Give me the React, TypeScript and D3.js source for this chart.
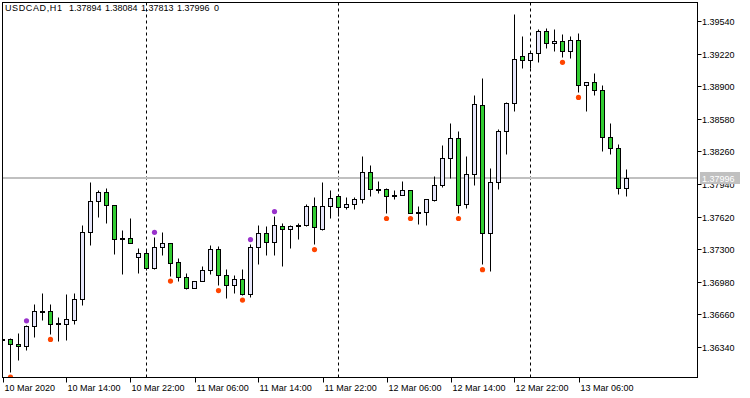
import React from 'react';
import * as d3 from 'd3';

const opens = [1.36407,1.36415,1.36363,1.36340,1.36537,1.36683,1.36685,1.36560,1.36562,1.36602,1.36803,1.37462,1.37768,1.37856,1.37728,1.37398,1.37400,1.37216,1.37256,1.37108,1.37315,1.37354,1.37167,1.37019,1.36911,1.36980,1.37088,1.37295,1.37039,1.36941,1.37000,1.36852,1.37315,1.37453,1.37364,1.37518,1.37492,1.37525,1.37531,1.37719,1.37492,1.37719,1.37817,1.37709,1.37738,1.37787,1.38053,1.37884,1.37886,1.37821,1.37827,1.37876,1.37657,1.37659,1.37780,1.37925,1.38191,1.38388,1.37738,1.38034,1.38713,1.37453,1.37955,1.38457,1.38733,1.39195,1.39156,1.39225,1.39442,1.39323,1.39343,1.39245,1.39353,1.38910,1.38939,1.38861,1.38398,1.38290,1.37894];
const highs = [1.36451,1.36420,1.36471,1.36545,1.36754,1.36862,1.36754,1.36629,1.36852,1.36862,1.37531,1.37955,1.37879,1.37896,1.37730,1.37482,1.37600,1.37305,1.37298,1.37416,1.37465,1.37358,1.37209,1.37059,1.36982,1.37128,1.37335,1.37328,1.37098,1.37039,1.37098,1.37344,1.37531,1.37522,1.37620,1.37551,1.37531,1.37551,1.37738,1.37807,1.37951,1.37872,1.37837,1.37807,1.37807,1.38211,1.38122,1.37965,1.37894,1.37876,1.37965,1.37878,1.37719,1.37787,1.38017,1.38319,1.38536,1.38457,1.38211,1.38811,1.38979,1.38093,1.38477,1.38742,1.39609,1.39392,1.39238,1.39461,1.39471,1.39461,1.39412,1.39392,1.39422,1.38939,1.39028,1.38910,1.38536,1.38329,1.38084];
const lows = [1.36373,1.36090,1.36208,1.36307,1.36435,1.36602,1.36461,1.36395,1.36405,1.36562,1.36750,1.37340,1.37606,1.37547,1.37242,1.37049,1.37352,1.37055,1.37091,1.37100,1.37232,1.37035,1.36986,1.36905,1.36909,1.36978,1.37049,1.36941,1.36813,1.36862,1.36848,1.36823,1.37147,1.37236,1.37236,1.37128,1.37305,1.37394,1.37518,1.37344,1.37485,1.37600,1.37620,1.37685,1.37689,1.37748,1.37817,1.37847,1.37650,1.37787,1.37827,1.37650,1.37541,1.37531,1.37768,1.37906,1.37994,1.37650,1.37699,1.37925,1.37147,1.37079,1.37886,1.38231,1.38654,1.39077,1.39077,1.39136,1.39274,1.39245,1.39186,1.39176,1.38841,1.38654,1.38811,1.38260,1.38231,1.37837,1.37813];
const closes = [1.36415,1.36360,1.36340,1.36537,1.36685,1.36687,1.36557,1.36564,1.36606,1.36803,1.37462,1.37768,1.37856,1.37728,1.37394,1.37402,1.37354,1.37256,1.37108,1.37315,1.37354,1.37163,1.37019,1.36911,1.36980,1.37088,1.37295,1.37039,1.36941,1.37000,1.36852,1.37315,1.37453,1.37364,1.37531,1.37492,1.37518,1.37529,1.37719,1.37510,1.37719,1.37793,1.37709,1.37738,1.37787,1.38053,1.37886,1.37888,1.37817,1.37825,1.37876,1.37650,1.37661,1.37787,1.37925,1.38191,1.38388,1.37728,1.38034,1.38723,1.37453,1.37955,1.38457,1.38733,1.39166,1.39156,1.39225,1.39442,1.39323,1.39343,1.39245,1.39353,1.38910,1.38939,1.38861,1.38398,1.38290,1.37896,1.37996];

const priceTicks = [1.39540, 1.39220, 1.38900, 1.38580, 1.38260, 1.37940, 1.37620, 1.37300, 1.36980, 1.36660, 1.36340];
const timeTickBars = [0, 8, 16, 24, 32, 40, 48, 56, 64, 72];
const timeTickLabels = ["10 Mar 2020", "10 Mar 14:00", "10 Mar 22:00", "11 Mar 06:00", "11 Mar 14:00", "11 Mar 22:00", "12 Mar 06:00", "12 Mar 14:00", "12 Mar 22:00", "13 Mar 06:00"];
const daySeparatorBars = [18, 42, 66];
const fractalUpBars = [3, 19, 31, 34];
const fractalDownBars = [1, 6, 21, 27, 30, 39, 48, 51, 57, 60, 70, 72];
const lastPrice = 1.37996;
const headerParts = ["USDCAD,H1", "1.37894", "1.38084", "1.37813", "1.37996", "0"];
const headerX = [5, 69, 105, 141, 177, 214];

export default function App() {
  const W = 750, H = 398;
  const L = 2.5, R = 697.5, T = 2.5, B = 377.5;
  const x = d3.scaleLinear().domain([0, 78]).range([2.5, 626.5]);
  const y = d3.scaleLinear().domain([1.36340, 1.39540]).range([346.7, 21.3]);
  const snap = (v: number) => Math.round(v - 0.5) + 0.5;
  const font = "'Liberation Sans', Arial, sans-serif";
  const bull = "#E6E6FA";
  const bear = "#32CD32";
  const lastY = Math.round(y(lastPrice));

  return (
    <svg width={W} height={H} style={{ position: 'absolute', left: 0, top: 0, background: '#fff' }} fontFamily={font}>
      <defs>
        <clipPath id="plot">
          <rect x={3} y={3} width={R - 3} height={B - 3} />
        </clipPath>
      </defs>
      <rect x={0} y={0} width={W} height={H} fill="#fff" />
      <g clipPath="url(#plot)">
        {daySeparatorBars.map((b) => (
          <line key={'d' + b} x1={x(b)} x2={x(b)} y1={T} y2={B} stroke="#000" strokeWidth={1} strokeDasharray="3,3" />
        ))}
        <line x1={L} x2={R} y1={lastY} y2={lastY} stroke="#C0C0C0" strokeWidth={2} />
        {opens.map((o, i) => {
          const c = closes[i];
          const cx = x(i);
          const yTop = snap(y(Math.max(o, c)));
          let yBot = snap(y(Math.min(o, c)));
          if (yBot - yTop < 1) yBot = yTop + 1;
          const isBull = c >= o;
          return (
            <g key={i}>
              <line x1={cx} x2={cx} y1={snap(y(highs[i]))} y2={snap(y(lows[i]))} stroke="#000" strokeWidth={1} />
              <rect x={cx - 2} y={yTop} width={4} height={yBot - yTop} fill={isBull ? bull : bear} stroke="#000" strokeWidth={1} />
            </g>
          );
        })}
        {fractalUpBars.map((b) => (
          <circle key={'u' + b} cx={x(b)} cy={y(highs[b]) - 5} r={2.6} fill="#9932CC" />
        ))}
        {fractalDownBars.map((b) => (
          <circle key={'w' + b} cx={x(b)} cy={y(lows[b]) + 5} r={2.6} fill="#FF4500" />
        ))}
      </g>
      <rect x={L} y={T} width={R - L} height={B - T} fill="none" stroke="#000" strokeWidth={1} />
      {headerParts.map((t, i) => (
        <text key={'h' + i} x={headerX[i]} y={11} fontSize={9} fill="#000"
          {...(i === 0 ? { textLength: 57, lengthAdjust: 'spacing' } : {})}>{t}</text>
      ))}
      {priceTicks.map((p) => {
        const ty = Math.round(y(p)) + 0.5;
        return (
          <g key={'p' + p}>
            <line x1={R} x2={R + 4} y1={ty} y2={ty} stroke="#000" strokeWidth={1} />
            <text x={702} y={ty + 3.5} fontSize={9} fill="#000">{p.toFixed(5)}</text>
          </g>
        );
      })}
      <rect x={700} y={lastY - 6} width={40} height={12} fill="#C0C0C0" />
      <text x={702} y={lastY + 3.5} fontSize={9} fill="#fff">{lastPrice.toFixed(5)}</text>
      {timeTickBars.map((b, i) => {
        const tx = Math.round(x(b)) + 0.5;
        return (
          <g key={'t' + b}>
            <line x1={tx} x2={tx} y1={B} y2={B + 5} stroke="#000" strokeWidth={1} />
            <text x={tx + 1} y={391} fontSize={9} fill="#000">{timeTickLabels[i]}</text>
          </g>
        );
      })}
    </svg>
  );
}
